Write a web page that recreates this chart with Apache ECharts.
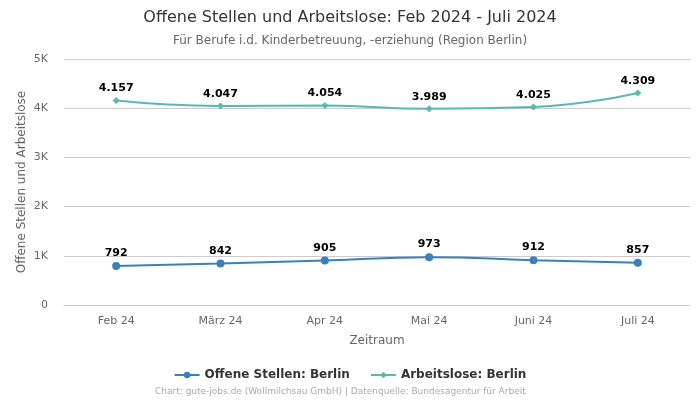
<!DOCTYPE html>
<html><head><meta charset="utf-8">
<script src="https://cdn.jsdelivr.net/npm/echarts@6/dist/echarts.min.js"></script>
<style>html,body{margin:0;padding:0;background:#fff}#c{width:700px;height:400px}</style>
</head><body><div id="c"></div>
<script>
const categories = ["Feb 24", "März 24", "Apr 24", "Mai 24", "Juni 24", "Juli 24"];
const offeneStellen = [792, 842, 905, 973, 912, 857];
const arbeitslose = [4157, 4047, 4054, 3989, 4025, 4309];
const yTicks = ["0", "1K", "2K", "3K", "4K", "5K"];

const FONT = "DejaVu Sans";
const fmt = v => String(v).replace(/\B(?=(\d{3})+(?!\d))/g, ".");
const chart = echarts.init(document.getElementById('c'));
chart.setOption({
  animation: false,
  textStyle: { fontFamily: FONT },
  title: {
    text: "Offene Stellen und Arbeitslose: Feb 2024 - Juli 2024",
    subtext: "Für Berufe i.d. Kinderbetreuung, -erziehung (Region Berlin)",
    left: "center", top: 5,
    textStyle: { fontFamily: FONT, fontSize: 16, fontWeight: "normal", color: "#333" },
    subtextStyle: { fontFamily: FONT, fontSize: 12, color: "#666" },
    itemGap: 9
  },
  grid: { left: 64, right: 10, top: 59, bottom: 95 },
  legend: {
    bottom: 14, left: "center", itemGap: 20, itemWidth: 25, itemHeight: 8,
    textStyle: { fontFamily: FONT, fontSize: 12, fontWeight: "bold", color: "#333" },
    data: ["Offene Stellen: Berlin", "Arbeitslose: Berlin"]
  },
  graphic: [{
    type: "text", left: 155, bottom: 4,
    style: { text: "Chart: gute-jobs.de (Wollmilchsau GmbH) | Datenquelle: Bundesagentur für Arbeit", fill: "#aaa", font: "9px " + FONT }
  }],
  xAxis: {
    type: "category", data: categories, boundaryGap: true,
    name: "Zeitraum", nameLocation: "middle", nameGap: 30,
    nameTextStyle: { fontFamily: FONT, fontSize: 12, color: "#666" },
    axisLine: { show: true, lineStyle: { color: "#ccc" } },
    axisTick: { show: false },
    axisLabel: { color: "#666", fontSize: 11, margin: 11, fontFamily: FONT }
  },
  yAxis: {
    type: "value", min: 0, max: 5000, interval: 1000,
    name: "Offene Stellen und Arbeitslose", nameLocation: "middle", nameGap: 36,
    nameMoveOverlap: false,
    nameTextStyle: { fontFamily: FONT, fontSize: 12, color: "#666" },
    axisLine: { show: false }, axisTick: { show: false },
    axisLabel: { color: "#666", fontSize: 11, margin: 16, fontFamily: FONT,
      formatter: v => yTicks[Math.round(v / 1000)] },
    splitLine: { lineStyle: { color: "#ccc" } }
  },
  series: [
    {
      name: "Offene Stellen: Berlin", type: "line", data: offeneStellen, smooth: true,
      symbol: "circle", symbolSize: 8,
      itemStyle: { color: "#3a80b9" }, lineStyle: { width: 2, color: "#3a80b9" },
      label: { show: true, position: "top", distance: 3, formatter: p => fmt(p.value),
        fontFamily: FONT, fontSize: 11, fontWeight: "bold", color: "#000" }
    },
    {
      name: "Arbeitslose: Berlin", type: "line", data: arbeitslose, smooth: true,
      symbol: "diamond", symbolSize: 7,
      itemStyle: { color: "#5cb8ae" }, lineStyle: { width: 2, color: "#5cb8ae" },
      label: { show: true, position: "top", distance: 3, formatter: p => fmt(p.value),
        fontFamily: FONT, fontSize: 11, fontWeight: "bold", color: "#000" }
    }
  ]
});
</script></body></html>
